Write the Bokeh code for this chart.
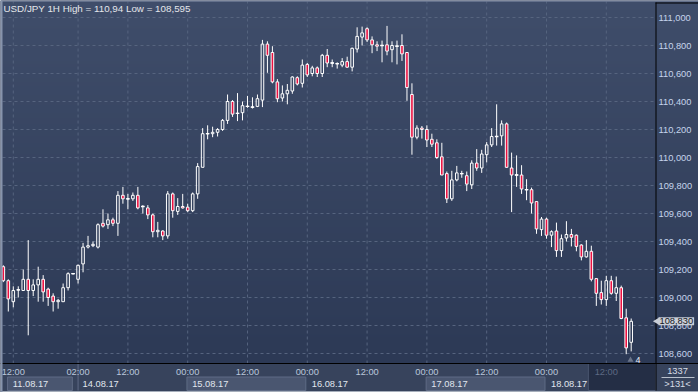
import numpy as np
from bokeh.plotting import figure
from bokeh.models import Range1d, Label, ColumnDataSource
from bokeh.embed import file_html
from bokeh.resources import INLINE
from bokeh.core.properties import value

# ---------------- data (USD/JPY, 1H candles) ----------------
opens = [109.22, 109.12, 108.97, 109.055, 109.05, 109.13, 109.05, 109.09, 109.13, 109.06,
         109.01, 108.97, 108.97, 109.07, 109.17, 109.13, 109.24, 109.36, 109.37, 109.36,
         109.53, 109.52, 109.555, 109.53, 109.73, 109.705, 109.705, 109.73, 109.65, 109.64,
         109.59, 109.47, 109.475, 109.44, 109.74, 109.615, 109.65, 109.645, 109.62, 109.74,
         109.93, 110.17, 110.17, 110.18, 110.20, 110.265, 110.40, 110.315, 110.32, 110.365,
         110.36, 110.365, 110.41, 110.81, 110.75, 110.54, 110.425, 110.455, 110.475, 110.57,
         110.53, 110.665, 110.60, 110.64, 110.60, 110.73, 110.675, 110.67, 110.66, 110.685,
         110.645, 110.775, 110.86, 110.92, 110.84, 110.805, 110.80, 110.805, 110.77, 110.795,
         110.80, 110.75, 110.45, 110.145, 110.21, 110.20, 110.13, 110.105, 110.005, 109.885,
         109.705, 109.84, 109.885, 109.87, 109.805, 109.96, 109.925, 110.02, 110.09, 110.15,
         110.155, 110.24, 109.925, 109.875, 109.875, 109.77, 109.77, 109.685, 109.485, 109.56,
         109.445, 109.475, 109.335, 109.425, 109.45, 109.445, 109.375, 109.29, 109.33, 109.135,
         109.035, 108.985, 109.12, 109.03, 109.07, 108.855, 108.68]
highs = [109.23, 109.13, 109.08, 109.08, 109.20, 109.41, 109.13, 109.22, 109.16, 109.07,
         109.03, 108.99, 109.10, 109.18, 109.175, 109.235, 109.39, 109.44, 109.40, 109.53,
         109.63, 109.60, 109.57, 109.76, 109.79, 109.74, 109.75, 109.79, 109.66, 109.66,
         109.60, 109.54, 109.48, 109.76, 109.75, 109.71, 109.74, 109.67, 109.75, 109.96,
         110.21, 110.23, 110.22, 110.21, 110.275, 110.45, 110.41, 110.46, 110.40, 110.44,
         110.43, 110.45, 110.84, 110.83, 110.795, 110.56, 110.515, 110.525, 110.58, 110.58,
         110.70, 110.675, 110.655, 110.65, 110.74, 110.775, 110.70, 110.68, 110.71, 110.72,
         110.785, 110.93, 110.935, 110.93, 110.865, 110.83, 110.835, 110.94, 110.83, 110.835,
         110.88, 110.75, 110.53, 110.23, 110.225, 110.23, 110.17, 110.13, 110.105, 109.90,
         109.905, 109.94, 109.905, 109.90, 109.98, 110.06, 110.055, 110.11, 110.21, 110.38,
         110.265, 110.25, 110.035, 110.015, 109.945, 109.845, 109.785, 109.685, 109.575, 109.57,
         109.48, 109.535, 109.45, 109.545, 109.49, 109.45, 109.38, 109.41, 109.37, 109.135,
         109.12, 109.155, 109.155, 109.15, 109.085, 108.92, 108.85]
lows = [109.11, 108.90, 108.93, 109.00, 109.05, 108.73, 109.01, 108.97, 108.97, 108.94,
        108.90, 108.92, 108.97, 109.05, 109.165, 109.10, 109.18, 109.35, 109.36, 109.35,
        109.50, 109.49, 109.51, 109.44, 109.67, 109.63, 109.69, 109.63, 109.60, 109.56,
        109.43, 109.43, 109.41, 109.42, 109.57, 109.59, 109.635, 109.61, 109.61, 109.705,
        109.93, 110.13, 110.145, 110.15, 110.19, 110.24, 110.29, 110.26, 110.265, 110.355,
        110.35, 110.36, 110.36, 110.605, 110.53, 110.395, 110.40, 110.38, 110.455, 110.515,
        110.50, 110.575, 110.58, 110.575, 110.575, 110.645, 110.645, 110.635, 110.645, 110.64,
        110.615, 110.75, 110.80, 110.825, 110.745, 110.76, 110.68, 110.73, 110.68, 110.665,
        110.69, 110.405, 110.02, 110.13, 110.135, 110.075, 110.075, 109.99, 109.875, 109.675,
        109.69, 109.83, 109.855, 109.76, 109.775, 109.905, 109.89, 109.965, 110.075, 110.085,
        110.085, 109.925, 109.61, 109.79, 109.74, 109.695, 109.60, 109.455, 109.44, 109.42,
        109.36, 109.29, 109.29, 109.40, 109.365, 109.33, 109.265, 109.285, 109.115, 108.94,
        108.95, 108.94, 109.02, 108.975, 108.845, 108.595, 108.615]
closes = [109.12, 108.99, 109.05, 109.055, 109.13, 109.05, 109.09, 109.13, 109.04, 109.00,
          108.97, 108.98, 109.07, 109.17, 109.17, 109.23, 109.36, 109.37, 109.38, 109.52,
          109.51, 109.555, 109.53, 109.73, 109.705, 109.705, 109.73, 109.64, 109.65, 109.59,
          109.47, 109.48, 109.44, 109.74, 109.62, 109.65, 109.64, 109.62, 109.74, 109.935,
          110.17, 110.17, 110.18, 110.20, 110.265, 110.40, 110.31, 110.315, 110.37, 110.365,
          110.36, 110.42, 110.81, 110.73, 110.54, 110.42, 110.455, 110.48, 110.575, 110.525,
          110.66, 110.59, 110.64, 110.60, 110.73, 110.675, 110.675, 110.67, 110.685, 110.645,
          110.78, 110.865, 110.89, 110.84, 110.805, 110.795, 110.80, 110.76, 110.80, 110.795,
          110.74, 110.50, 110.145, 110.21, 110.20, 110.125, 110.095, 110.00, 109.875, 109.705,
          109.84, 109.89, 109.885, 109.81, 109.96, 109.925, 110.025, 110.09, 110.15, 110.15,
          110.24, 109.93, 109.875, 109.875, 109.775, 109.77, 109.675, 109.49, 109.56, 109.445,
          109.47, 109.335, 109.42, 109.45, 109.43, 109.365, 109.29, 109.33, 109.13, 109.03,
          108.985, 109.12, 109.03, 109.07, 108.85, 108.64, 108.83]

price_ticks = [108.6, 108.8, 109.0, 109.2, 109.4, 109.6, 109.8, 110.0, 110.2, 110.4, 110.6, 110.8, 111.0]
time_tick_idx = [2, 15, 25, 37, 49, 61, 73, 85, 97, 109, 121]
time_tick_lbl = ["12:00", "02:00", "12:00", "00:00", "12:00", "00:00", "12:00", "00:00", "12:00", "00:00", "12:00"]
day_first_bar = [1, 15, 37, 61, 85, 109]
day_bounds = [0.85, 14.0, 36.85, 60.85, 84.85, 108.85, 131.0]
day_lbl = ["11.08.17", "14.08.17", "15.08.17", "16.08.17", "17.08.17", "18.08.17"]
day_boxed = [True, False, True, False, True, False]
week_break_bar = 15
title_text = "USD/JPY 1H High = 110,94 Low = 108,595"
bars_total = "1337"
bars_visible = ">131<"
bars_counter = "4"
shade_start = 117.4

# ---------------- layout helpers (page pixels -> data) ----------------
PX_PER_BAR = 4.9832
X_REF = 7.8          # page x of bar index 1


def k_at(px):
    return 1 + (px - X_REF) / PX_PER_BAR


def price_at(py):
    return 111.0 - (py - 17.0) / 140.0


FONT = "Liberation Sans"
BG_TOP = (0x3f, 0x4d, 0x6a)
BG_BOT = (0x2c, 0x39, 0x55)
RED = "#ec1040"
GRID = "#56647f"
STRIP = "#37435c"

W, H = 698, 392
PLOT_R, PLOT_B = 655, 363

p = figure(width=W, height=H, output_backend="svg", toolbar_location=None,
           x_range=Range1d(k_at(0), k_at(W)), y_range=Range1d(price_at(H), price_at(0)),
           x_axis_location=None, y_axis_location=None,
           min_border_left=0, min_border_right=0, min_border_top=0, min_border_bottom=0)
p.border_fill_color = STRIP
p.background_fill_color = STRIP
p.outline_line_color = None
p.grid.visible = False

# vertical gradient background of price area (incl. price scale)
n = PLOT_B
t = np.linspace(0.0, 1.0, n)[:, None]
img = np.empty((n, 1), dtype=np.uint32)
view = img.view(dtype=np.uint8).reshape((n, 1, 4))
for ch in range(3):
    view[:, :, ch] = np.round(BG_BOT[ch] + (BG_TOP[ch] - BG_BOT[ch]) * t).astype(np.uint8)
view[:, :, 3] = 255
p.image_rgba(image=[img], x=k_at(0), y=price_at(PLOT_B), dw=k_at(W) - k_at(0),
             dh=price_at(0) - price_at(PLOT_B))

# dashed grid
p.segment(x0=k_at(2), x1=k_at(PLOT_R), y0=price_ticks, y1=price_ticks,
          line_color=GRID, line_dash="3 3", line_width=1)
p.segment(x0=time_tick_idx, x1=time_tick_idx, y0=price_at(PLOT_B), y1=price_at(1),
          line_color=GRID, line_dash="3 3", line_width=1)

# candles
o = np.array(opens); h = np.array(highs); l = np.array(lows); c = np.array(closes)
k = np.arange(len(o))
btop = np.maximum(o, c); bbot = np.minimum(o, c)
up = c >= o
src = ColumnDataSource(dict(k=k, h=h, l=l, btop=btop, bbot=bbot,
                            fill=[("rgba(0,0,0,0)" if u else RED) for u in up]))
p.segment(x0="k", y0="btop", x1="k", y1="h", source=src, line_color="white", line_width=1)
p.segment(x0="k", y0="l", x1="k", y1="bbot", source=src, line_color="white", line_width=1)
BW = 0.52
p.vbar(x="k", width=BW, top="btop", bottom="bbot", source=src,
       fill_color="fill", line_color="white", line_width=1)
doji = np.abs(c - o) < 1e-9
p.segment(x0=k[doji] - BW / 2 - 0.1, x1=k[doji] + BW / 2 + 0.1, y0=o[doji], y1=o[doji],
          line_color="white", line_width=1.3)

# price scale (right)
p.segment(x0=[k_at(PLOT_R + 0.5)], x1=[k_at(PLOT_R + 0.5)], y0=[price_at(2)], y1=[price_at(390)],
          line_color="black", line_width=1)
p.segment(x0=[k_at(PLOT_R)], x1=[k_at(W)], y0=[price_at(2.5)], y1=[price_at(2.5)],
          line_color="black", line_width=1)
tick_txt = [f"{v:.3f}".replace(".", ",") for v in price_ticks]
p.text(x=k_at(658), y=price_ticks, text=tick_txt, text_align="left", text_baseline="middle",
       text_color="#c6d4ec", text_font=value(FONT), text_font_size="9.3px")

# title
p.text(x=[k_at(3)], y=[price_at(2.5)], text=[title_text], text_align="left", text_baseline="top",
       text_color="#e4e6ea", text_font=value(FONT), text_font_size="9.8px")

# counter near last bar
p.scatter(x=[k_at(630)], y=[price_at(359.5)], marker="triangle", size=6,
          fill_color="#6c768a", line_color=None)
p.text(x=[k_at(635)], y=[price_at(362)], text=[bars_counter], text_align="left",
       text_baseline="bottom", text_color="#e8eef8", text_font=value(FONT), text_font_size="9px")

# last price tag
last_txt = f"{closes[-1]:.3f}".replace(".", ",")
p.scatter(x=[k_at(657)], y=[closes[-1]], marker="triangle", angle=np.pi / 2, size=8,
          fill_color="#c9ced7", line_color=None)
p.add_layout(Label(x=k_at(658), y=closes[-1], text=last_txt,
                   text_baseline="middle", text_align="left", text_color="#15181e",
                   text_font=FONT, text_font_size="9.3px",
                   background_fill_color="#c9ced7", padding=1))

# ---------------- bottom time strip ----------------
p.quad(left=[k_at(0)], right=[k_at(W)], bottom=[price_at(H)], top=[price_at(PLOT_B)],
       fill_color=STRIP, line_color=None)
bx = [i for i, f in enumerate(day_boxed) if f]
p.quad(left=[day_bounds[i] for i in bx], right=[day_bounds[i + 1] - 0.15 for i in bx],
       bottom=price_at(390), top=price_at(376.5), fill_color="#4a5670", line_color="#5f6b85", line_width=1)
p.quad(left=[shade_start], right=[k_at(PLOT_R)], bottom=price_at(390), top=price_at(PLOT_B),
       fill_color="#242e45", line_color="#4a5670", line_width=1)
p.segment(x0=[week_break_bar], x1=[week_break_bar], y0=[price_at(PLOT_B)], y1=[price_at(390)],
          line_color="#5f6b85", line_width=1)

p.text(x=[d + 0.9 for d in day_first_bar], y=price_at(383.5), text=day_lbl, text_align="left",
       text_baseline="middle", text_color="#e0e6ef", text_font=value(FONT), text_font_size="9.3px")
tcols = ["#5d6983" if ti > shade_start else "#bac7db" for ti in time_tick_idx]
p.text(x=time_tick_idx, y=price_at(371.5), text=time_tick_lbl, text_align="center",
       text_baseline="middle", text_color=tcols, text_font=value(FONT), text_font_size="9.3px")

# strip borders
p.segment(x0=[k_at(0)], x1=[k_at(W)], y0=[price_at(PLOT_B)], y1=[price_at(PLOT_B)],
          line_color="black", line_width=1.2)
p.segment(x0=[k_at(PLOT_R + 0.5)], x1=[k_at(PLOT_R + 0.5)], y0=[price_at(PLOT_B)], y1=[price_at(390)],
          line_color="black", line_width=1)

# right info box
p.text(x=[k_at(677)], y=price_at(370.5), text=[bars_total], text_align="center", text_baseline="middle",
       text_color="#d8dde6", text_font=value(FONT), text_font_size="9.3px")
p.segment(x0=[k_at(661)], x1=[k_at(694)], y0=[price_at(377)], y1=[price_at(377)],
          line_color="#b9c0cc", line_width=1)
p.text(x=[k_at(677)], y=price_at(383.5), text=[bars_visible], text_align="center", text_baseline="middle",
       text_color="#d8dde6", text_font=value(FONT), text_font_size="9.3px")

# outer light frame
p.quad(left=[k_at(0)], right=[k_at(W)], bottom=[price_at(H)], top=[price_at(390.5)],
       fill_color="#a6aebb", line_color=None)
p.quad(left=[k_at(0)], right=[k_at(2)], bottom=[price_at(H)], top=[price_at(0)],
       fill_color="#8794ac", line_color=None)
p.quad(left=[k_at(0)], right=[k_at(W)], bottom=[price_at(1)], top=[price_at(0)],
       fill_color="#8794ac", line_color=None)

open("out.html", "w").write(file_html(p, INLINE))
